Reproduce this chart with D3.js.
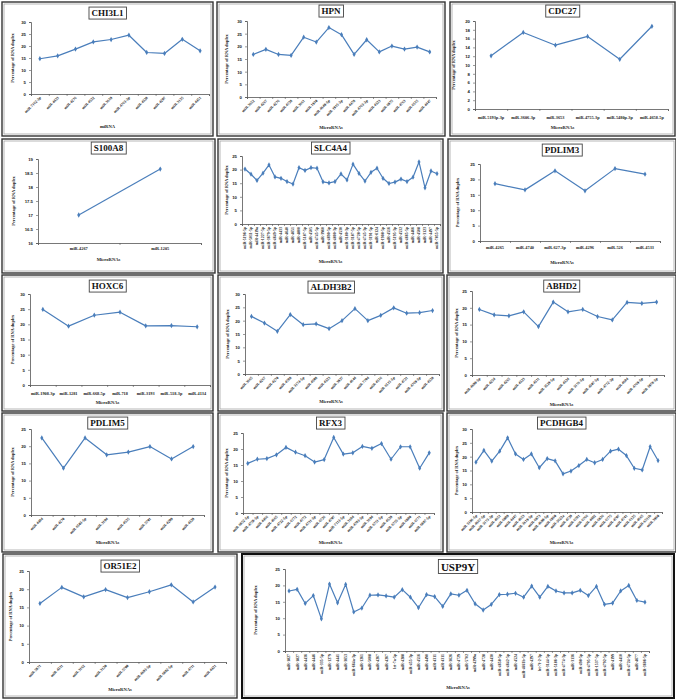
<!DOCTYPE html>
<meta charset="utf-8">
<style>
  body { margin: 0; background: #fff; }
  svg { font-family: "Liberation Serif", "Times New Roman", serif; display: block; }
  .tick text { font-weight: bold; }
</style>
<body>
<svg id="chart" width="676" height="700"></svg>
<script src="https://d3js.org/d3.v7.min.js"></script>
<script>
// ---- data ----
var chi3l1Labels = ["miR-7162-3p","miR-4433","miR-4276","miR-4532","miR-3619","miR-4763-3p","miR-4328","miR-4297","miR-3135","miR-4451"];
var chi3l1Values = [14.7,15.9,18.7,21.7,22.7,24.5,17.3,16.9,22.8,18.0];

var hpnLabels = ["miR-3652","miR-4267","miR-4276","miR-4738","miR-3661","miR-1910","miR-4640-5p","miR-1915-3p","miR-4478","miR-4763-3p","miR-4323","miR-6075","miR-4763","miR-6515","miR-4447"];
var hpnValues = [16.8,18.8,16.8,16.4,23.6,21.7,27.4,24.6,16.8,22.6,17.8,20.1,18.9,19.7,17.8];

var cdc27Labels = ["miR-5193p-3p","miR-3606-3p","miR-3653","miR-4755-3p","miR-5480p-3p","miR-4658-5p"];
var cdc27Values = [12.1,17.4,14.5,16.5,11.3,18.8];

var s100a8Labels = ["miR-4267","miR-1205"];
var s100a8Values = [17.0,18.64];

var slc4a4Labels = ["miR-5196-5p","miR-5011-5p","miR-4419a","miR-1227-5p","miR-3679-5p","miR-4649-5p","miR-4433","miR-4640","miR-4651","miR-4800","miR-5187-5p","miR-4505","miR-4745-5p","miR-3960","miR-4690-5p","miR-4800-3p","miR-4530","miR-3180-3p","miR-3187-5p","miR-4728-5p","miR-4745-3p","miR-3191-5p","miR-6124","miR-1908-5p","miR-4516","miR-5195-3p","miR-4532","miR-4665-5p","miR-4466","miR-4508","miR-3123","miR-4497","miR-7855-5p"];
var slc4a4Values = [20.2,18.3,16.0,18.7,21.7,17.3,16.8,15.6,14.7,20.7,19.7,20.7,20.5,15.5,15.1,15.6,18.4,16.2,22.0,18.6,15.8,19.0,20.5,16.8,14.9,15.4,16.5,15.6,17.2,22.8,13.3,19.5,18.5];

var pdlim3Labels = ["miR-4265","miR-4740","miR-627-3p","miR-4296","miR-526","miR-4533"];
var pdlim3Values = [18.6,16.6,22.8,16.3,23.5,21.7];

var hoxc6Labels = ["miR-1908-3p","miR-1281","miR-668-5p","miR-718","miR-3193","miR-518-3p","miR-4134"];
var hoxc6Values = [24.9,19.4,23.0,24.0,19.5,19.6,19.2];

var aldh3b2Labels = ["miR-3665","miR-4267","miR-4270","miR-4788","miR-3174-5p","miR-4508","miR-4323","miR-3937","miR-4644","miR-7704","miR-4516","miR-6515-5p","miR-4721","miR-4769-5p","miR-4538"];
var aldh3b2Values = [21.6,19.1,16.0,22.3,18.5,18.8,17.0,20.0,24.5,20.0,22.0,24.8,22.8,23.0,23.8];

var abhd2Labels = ["miR-4690-5p","miR-4254","miR-4265","miR-4323","miR-4511","miR-3529-5p","miR-4324","miR-3176-5p","miR-4507-5p","miR-4772-3p","miR-4684","miR-4769-5p","miR-3978-5p"];
var abhd2Values = [19.5,17.9,17.6,18.8,14.4,21.7,18.8,19.5,17.4,16.4,21.6,21.3,21.7];

var pdlim5Labels = ["miR-4484","miR-4270","miR-6503-5p","miR-3194","miR-4535","miR-5701","miR-4299","miR-4329"];
var pdlim5Values = [22.4,13.6,22.4,17.5,18.3,19.9,16.3,19.9];

var rfx3Labels = ["miR-6852-5p","miR-4758-5p","miR-4466","miR-4665","miR-4722-5p","miR-6772","miR-4772","miR-4731-5p","miR-6726","miR-4707","miR-7113-5p","miR-3184","miR-4783-5p","miR-3194","miR-6751-5p","miR-4539","miR-6755-5p","miR-6880","miR-6771","miR-6887-5p"];
var rfx3Values = [15.5,16.8,17.0,18.2,20.5,19.0,17.9,15.9,16.7,23.6,18.4,18.8,20.8,20.2,21.7,16.8,20.7,20.7,14.0,18.8];

var pcdhgb4Labels = ["miR-5196-5p","miR-4667-5p","miR-3173-3p","miR-4651","miR-6089","miR-4447","miR-4653","miR-3619-5p","miR-6073","miR-4690-5p","miR-6860","miR-3622a","miR-4739","miR-6781","miR-6766","miR-4482","miR-6836","miR-6775","miR-4707","miR-4741","miR-6125","miR-4665","miR-6511b","miR-3960"];
var pcdhgb4Values = [18.0,22.3,18.4,22.0,26.8,21.0,19.0,21.0,16.0,19.3,18.5,13.8,14.8,16.8,19.0,17.8,19.0,22.0,22.7,20.4,15.8,15.2,23.6,18.6];

var or51e2Labels = ["miR-5871","miR-4311","miR-3162","miR-3120","miR-5700","miR-4693-5p","miR-6882-5p","miR-4711","miR-4421"];
var or51e2Values = [16.1,20.5,17.9,19.9,17.7,19.3,21.2,16.5,20.6];

var usp9yLabels = ["miR-1827","miR-1827","miR-4436","miR-4446","miR-335-5p","miR-1279","miR-4441","miR-3653","miR-664a-3p","miR-1261","miR-5008","miR-4267","miR-4267","let-7a-5p","miR-4288","miR-455-3p","miR-4516","miR-4490","miR-4311","miR-4311","miR-3626","miR-4729","miR-5702","miR-4299a","miR-4728","miR-4430","miR-4658-5p","miR-4642-5p","miR-4524","miR-4661b-5p","miR-4297","let-7f-2-3p","miR-3144-5p","miR-5186-3p","miR-4774-3p","miR-3136","miR-498-5p","miR-4795-5p","miR-1537-5p","miR-4792-5p","miR-4199","miR-4410","miR-4724-5p","miR-4677","miR-3606-5p"];
var usp9yValues = [18.3,18.8,14.5,16.9,9.8,20.4,14.7,20.3,11.9,13.1,17.0,17.1,16.8,16.4,18.7,16.4,13.2,17.2,16.6,13.6,17.4,17.0,18.5,14.4,12.5,14.2,17.2,17.3,17.6,16.4,19.8,16.4,19.7,18.3,17.7,17.7,18.5,16.9,19.7,14.2,14.6,18.3,20.0,15.4,14.9];

var yTitle = "Percentage of RNA duplex";

// ---- layout of the 14 panels ----
// box: [x0,y0,x1,y1]   plot: [left, top, right, bottom]
var panels = [
  {title:"CHI3L1", labels:chi3l1Labels, values:chi3l1Values, box:[2,2,213,136], plot:[31,22,209,94], y:[0,30,5], rot:-45, titleY:14, xTitle:"miRNA", xTitleY:128, yLabX:14},
  {title:"HPN", labels:hpnLabels, values:hpnValues, box:[217,2,445,136], plot:[247,21,436,97], y:[0,30,5], rot:-45, titleY:12, xTitle:"MicroRNAs", xTitleY:129, yLabX:228},
  {title:"CDC27", labels:cdc27Labels, values:cdc27Values, box:[450,2,675,136], plot:[475,21,668,109], y:[0,20,2], rot:0, labY:119, titleY:12, xTitle:"MicroRNAs", xTitleY:129, yLabX:455},

  {title:"S100A8", labels:s100a8Labels, values:s100a8Values, box:[2,139,215,273], plot:[38,159,201,243], y:[16,19,0.5], rot:0, labY:250, titleY:149, xTitle:"MicroRNAs", xTitleY:261, yLabX:15},
  {title:"SLC4A4", labels:slc4a4Labels, values:slc4a4Values, box:[218,139,443,273], plot:[242,156,440,224], y:[0,25,5], rot:-90, titleY:149, xTitle:"MicroRNAs", xTitleY:263, yLabX:228},
  {title:"PDLIM3", labels:pdlim3Labels, values:pdlim3Values, box:[448,139,676,273], plot:[480,164,660,241], y:[0,25,5], rot:0, labY:249, titleY:151, xTitle:"MicroRNAs", xTitleY:264, yLabX:459},

  {title:"HOXC6", labels:hoxc6Labels, values:hoxc6Values, box:[2,275,213,411], plot:[30,294,210,385], y:[0,30,5], rot:0, labY:395, titleY:287, xTitle:"MicroRNAs", xTitleY:404, yLabX:14},
  {title:"ALDH3B2", labels:aldh3b2Labels, values:aldh3b2Values, box:[218,275,444,411], plot:[245,294,439,374], y:[0,30,5], rot:-45, titleY:288, xTitle:"MicroRNAs", xTitleY:403, yLabX:229},
  {title:"ABHD2", labels:abhd2Labels, values:abhd2Values, box:[447,275,676,411], plot:[472,291,664,375], y:[0,25,5], rot:-45, titleY:287, xTitle:"MicroRNAs", xTitleY:406, yLabX:458},

  {title:"PDLIM5", labels:pdlim5Labels, values:pdlim5Values, box:[2,413,213,552], plot:[31,429,204,515], y:[0,25,5], rot:-45, titleY:424, xTitle:"MicroRNAs", xTitleY:544, yLabX:14},
  {title:"RFX3", labels:rfx3Labels, values:rfx3Values, box:[218,413,443,552], plot:[243,433,434,513], y:[0,25,5], rot:-45, titleY:424, xTitle:"MicroRNAs", xTitleY:544, yLabX:228},
  {title:"PCDHGB4", labels:pcdhgb4Labels, values:pcdhgb4Values, box:[447,413,676,552], plot:[472,429,662,512], y:[0,30,5], rot:-45, titleY:424, xTitle:"MicroRNAs", xTitleY:544, yLabX:458},

  {title:"OR51E2", labels:or51e2Labels, values:or51e2Values, box:[3,554,237,698], plot:[29,571,226,662], y:[0,25,5], rot:-45, titleY:567, xTitle:"MicroRNAs", xTitleY:691, yLabX:12},
  {title:"USP9Y", labels:usp9yLabels, values:usp9yValues, box:[242,554,674,698], plot:[285,569,649,651], y:[0,25,5], rot:-90, titleY:568, titleSize:11, heavy:true, xTitle:"MicroRNAs", xTitleY:689, yLabX:257}
];

var svg = d3.select("#chart");
svg.append("rect").attr("width", 676).attr("height", 700).attr("fill", "#fff");

panels.forEach(drawPanel);

function drawPanel(p) {
  var g = svg.append("g");
  var bx = p.box, l = p.plot[0], t = p.plot[1], r = p.plot[2], b = p.plot[3];
  var n = p.values.length;
  var cx = (bx[0] + bx[2]) / 2;

  // double frame like the pasted Excel charts
  g.append("rect").attr("x", bx[0]).attr("y", bx[1])
    .attr("width", bx[2] - bx[0]).attr("height", bx[3] - bx[1])
    .attr("fill", "#fff").attr("stroke", p.heavy ? "#111" : "#333")
    .attr("stroke-width", p.heavy ? 2 : 1.4);
  g.append("rect").attr("x", bx[0] + 2).attr("y", bx[1] + 2)
    .attr("width", bx[2] - bx[0] - 4).attr("height", bx[3] - bx[1] - 4)
    .attr("fill", "none").attr("stroke", "#999").attr("stroke-width", 0.7);

  var x = d3.scaleBand().domain(d3.range(n)).range([l, r]);
  var xEdge = d3.scaleLinear().domain([0, n]).range([l, r]);
  var y = d3.scaleLinear().domain([p.y[0], p.y[1]]).range([b, t]);
  var yTicks = d3.range(p.y[0], p.y[1] + p.y[2] / 2, p.y[2]);

  var ya = g.append("g").attr("transform", "translate(" + l + ",0)")
    .call(d3.axisLeft(y).tickValues(yTicks).tickSize(2).tickPadding(3).tickFormat(d3.format("~g")));
  ya.selectAll("text").attr("font-size", 4.3).attr("fill", "#222");

  var xa = g.append("g").attr("transform", "translate(0," + b + ")")
    .call(d3.axisBottom(xEdge).tickValues(d3.range(n + 1)).tickSize(2).tickFormat(""));
  g.selectAll(".domain").attr("stroke", "#555").attr("stroke-width", 0.8);
  g.selectAll(".tick line").attr("stroke", "#555").attr("stroke-width", 0.6);

  // category labels
  var lab = g.append("g").attr("font-size", p.rot === 0 ? 4.3 : 3.9)
    .attr("font-weight", "bold").attr("fill", "#222");
  lab.selectAll("text").data(p.labels).enter().append("text")
    .attr("text-anchor", p.rot === 0 ? "middle" : "end")
    .attr("transform", function(d, i) {
      var px = x(i) + x.bandwidth() / 2;
      if (p.rot === 0) return "translate(" + px + "," + p.labY + ")";
      if (p.rot === -90) return "translate(" + (px + 1.4) + "," + (b + 3) + ") rotate(-90)";
      return "translate(" + (px + 1.5) + "," + (b + 4) + ") rotate(-45)";
    })
    .text(function(d) { return d; });

  // series
  var line = d3.line()
    .x(function(d, i) { return x(i) + x.bandwidth() / 2; })
    .y(function(d) { return y(d); });
  g.append("path").datum(p.values).attr("d", line)
    .attr("fill", "none").attr("stroke", "#4A7EBB").attr("stroke-width", 1.2)
    .attr("stroke-linejoin", "round");
  g.selectAll(".pt").data(p.values).enter().append("path")
    .attr("transform", function(d, i) { return "translate(" + (x(i) + x.bandwidth() / 2) + "," + y(d) + ")"; })
    .attr("d", d3.symbol(d3.symbolDiamond, 8))
    .attr("fill", "#4A7EBB");

  // axis titles
  g.append("text").attr("transform", "translate(" + p.yLabX + "," + ((t + b) / 2) + ") rotate(-90)")
    .attr("text-anchor", "middle").attr("font-size", 4.4).attr("font-weight", "bold")
    .attr("fill", "#222").text(yTitle);
  g.append("text").attr("x", cx).attr("y", p.xTitleY)
    .attr("text-anchor", "middle").attr("font-size", 4.6).attr("font-weight", "bold")
    .attr("fill", "#222").text(p.xTitle);

  // boxed chart title
  var tt = g.append("text").attr("x", cx).attr("y", p.titleY)
    .attr("text-anchor", "middle").attr("dominant-baseline", "middle")
    .attr("font-size", p.titleSize || 9).attr("font-weight", "bold")
    .attr("fill", "#111").text(p.title);
  var bb = tt.node().getBBox();
  g.insert("rect", function() { return tt.node(); })
    .attr("x", bb.x - 2.5).attr("y", bb.y - 1)
    .attr("width", bb.width + 5).attr("height", bb.height + 2)
    .attr("fill", "#fff").attr("stroke", "#444").attr("stroke-width", 0.9);
}
</script>
</body>
